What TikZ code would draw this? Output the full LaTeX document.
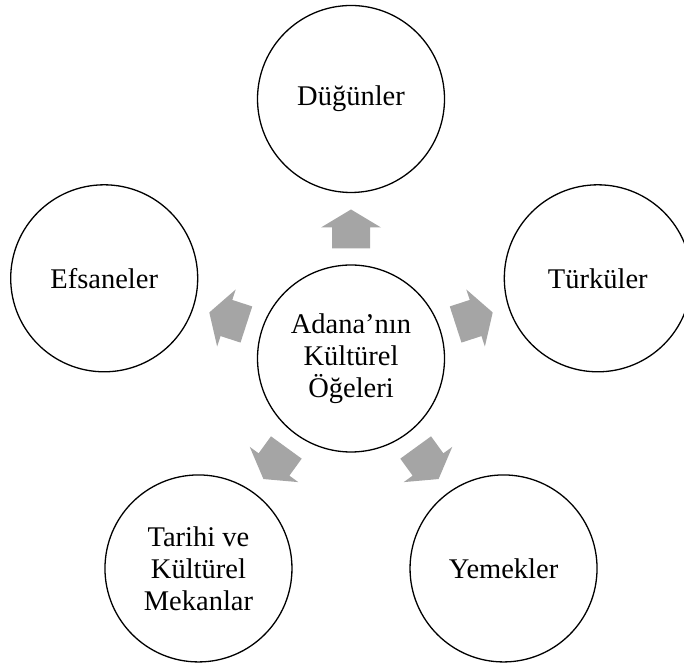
\documentclass[tikz,border=0pt]{standalone}
\usepackage{fontspec}
\setmainfont{Liberation Serif}
\usetikzlibrary{calc}
\definecolor{arrowgray}{HTML}{A5A5A5}
\tikzset{
  topic/.style={circle, draw=black, line width=1.3pt, fill=white,
    minimum size=187pt, inner sep=0pt, align=center,
    font=\fontsize{28.5}{32}\selectfont},
  blockarrow/.style={fill=arrowgray, draw=none}
}
\begin{document}
\begin{tikzpicture}[x=1pt,y=1pt]
  \useasboundingbox (0,0) rectangle (684,666);
  \clip (0,0) rectangle (684,666);

  % central topic and the five surrounding topics on a regular pentagon
  \node[topic] (ctr) at (351,307.5) {Adana’nın\\Kültürel\\Öğeleri};
  \node[topic] (dug) at ($(ctr)+(90:259.5)$)   {Düğünler};
  \node[topic] (tur) at ($(ctr)+(18:259.5)$)   {Türküler};
  \node[topic] (efs) at ($(ctr)+(162:259.5)$)  {Efsaneler};
  \node[topic] (yem) at ($(ctr)+(-54:259.5)$)  {Yemekler};
  \node[topic] (tar) at ($(ctr)+(-126:259.5)$) {Tarihi ve\\Kültürel\\Mekanlar};

  % block arrows pointing from the centre to each topic
  \foreach \ang in {90,18,162,-54,-126} {
    \begin{scope}[shift={(ctr.center)}, rotate=\ang]
      \fill[blockarrow] (110,-19) -- (131,-19) -- (131,-30) -- (149,0)
        -- (131,30) -- (131,19) -- (110,19) -- cycle;
    \end{scope}
  }
\end{tikzpicture}
\end{document}
